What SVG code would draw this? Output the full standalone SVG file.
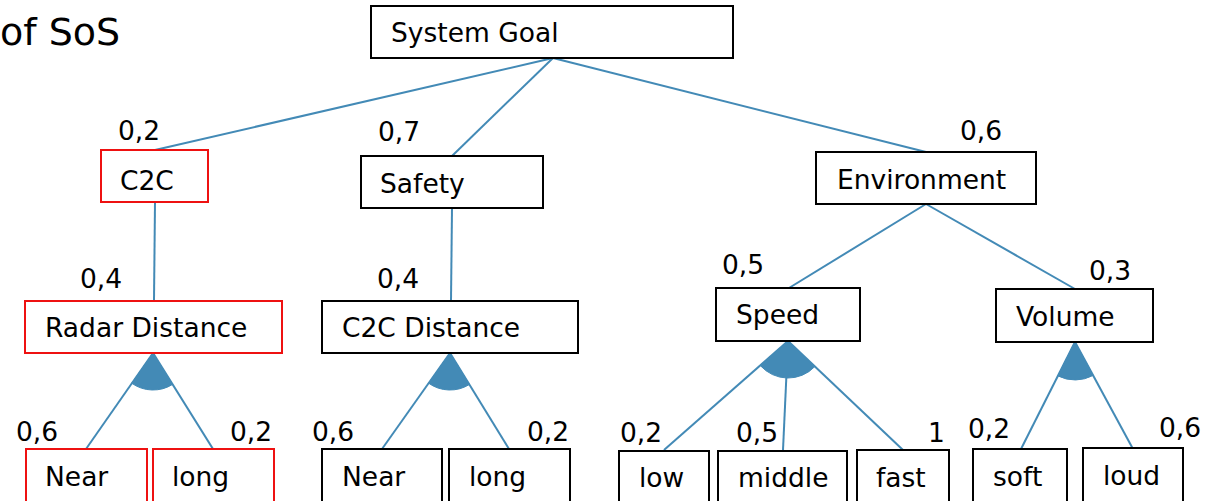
<svg xmlns="http://www.w3.org/2000/svg" width="1213" height="501" viewBox="0 0 1213 501">
<style>
text{font-family:"DejaVu Sans","Verdana",sans-serif;font-size:26.5px;fill:#000}
.b{fill:#fff;stroke:#000;stroke-width:2}
.r{fill:#fff;stroke:#ee1111;stroke-width:2}
.c line{stroke:#438ab6;stroke-width:2}
.w{fill:#438ab6;stroke:#438ab6;stroke-width:1}
.title{font-size:38px}
</style>
<rect width="1213" height="501" fill="#fff"/>
<text class="title" x="0" y="45">of SoS</text>
<g class="c" id="connectors">
<line x1="553" y1="58" x2="155" y2="150"/>
<line x1="553" y1="58" x2="452" y2="156"/>
<line x1="553" y1="58" x2="926" y2="152"/>
<line x1="155" y1="202" x2="154" y2="301"/>
<line x1="452" y1="208" x2="451" y2="301"/>
<line x1="926" y1="204" x2="789" y2="288"/>
<line x1="926" y1="204" x2="1075" y2="289"/>
<line x1="153" y1="353" x2="86" y2="449"/>
<line x1="153" y1="353" x2="213" y2="449"/>
<line x1="450" y1="353" x2="382" y2="449"/>
<line x1="450" y1="353" x2="509" y2="449"/>
<line x1="788" y1="341" x2="664" y2="450"/>
<line x1="788" y1="341" x2="783" y2="450"/>
<line x1="788" y1="341" x2="903" y2="450"/>
<line x1="1075" y1="342" x2="1021" y2="449"/>
<line x1="1075" y1="342" x2="1133" y2="449"/>
<path class="w" d="M153,353 L131.8,383.3 A37,37 0 0 0 172.6,384.4 Z"/>
<path class="w" d="M450,353 L428.6,383.2 A37,37 0 0 0 469.4,384.5 Z"/>
<path class="w" d="M788,341 L760.2,365.4 A37,37 0 0 0 814.9,366.5 Z"/>
<path class="w" d="M1075,342 L1057.9,375.9 A38,38 0 0 0 1093.1,375.4 Z"/>
</g>
<g id="system-goal"><rect class="b" x="371" y="6" width="362" height="52"/><text x="391" y="42">System Goal</text></g>
<g id="c2c"><rect class="r" x="101" y="150" width="107" height="52"/><text x="120" y="190">C2C</text><text x="118" y="140">0,2</text></g>
<g id="safety"><rect class="b" x="361" y="156" width="182" height="52"/><text x="380" y="193">Safety</text><text x="378" y="141">0,7</text></g>
<g id="environment"><rect class="b" x="816" y="152" width="220" height="52"/><text x="837" y="189">Environment</text><text x="960" y="140">0,6</text></g>
<g id="radar-distance"><rect class="r" x="25" y="301" width="257" height="52"/><text x="45" y="337">Radar Distance</text><text x="80" y="288">0,4</text></g>
<g id="c2c-distance"><rect class="b" x="322" y="301" width="256" height="52"/><text x="342" y="337">C2C Distance</text><text x="377" y="288">0,4</text></g>
<g id="speed"><rect class="b" x="716" y="288" width="144" height="53"/><text x="736" y="324">Speed</text><text x="722" y="274">0,5</text></g>
<g id="volume"><rect class="b" x="996" y="289" width="157" height="53"/><text x="1016" y="326">Volume</text><text x="1089" y="280">0,3</text></g>
<g id="radar-near"><rect class="r" x="26" y="449" width="121" height="60"/><text x="45" y="486">Near</text><text x="16" y="441">0,6</text></g>
<g id="radar-long"><rect class="r" x="153" y="449" width="121" height="60"/><text x="172" y="486">long</text><text x="230" y="441">0,2</text></g>
<g id="c2c-near"><rect class="b" x="322" y="449" width="120" height="60"/><text x="342" y="486">Near</text><text x="312" y="441">0,6</text></g>
<g id="c2c-long"><rect class="b" x="449" y="449" width="121" height="60"/><text x="469" y="486">long</text><text x="527" y="441">0,2</text></g>
<g id="low"><rect class="b" x="619" y="451" width="90" height="60"/><text x="639" y="487">low</text><text x="620" y="442">0,2</text></g>
<g id="middle"><rect class="b" x="718" y="451" width="129" height="60"/><text x="738" y="487">middle</text><text x="736" y="442">0,5</text></g>
<g id="fast"><rect class="b" x="857" y="450" width="92" height="60"/><text x="876" y="487">fast</text><text x="928" y="442">1</text></g>
<g id="soft"><rect class="b" x="973" y="449" width="94" height="60"/><text x="993" y="486">soft</text><text x="968" y="438">0,2</text></g>
<g id="loud"><rect class="b" x="1083" y="448" width="100" height="60"/><text x="1103" y="485">loud</text><text x="1159" y="437">0,6</text></g>
</svg>
